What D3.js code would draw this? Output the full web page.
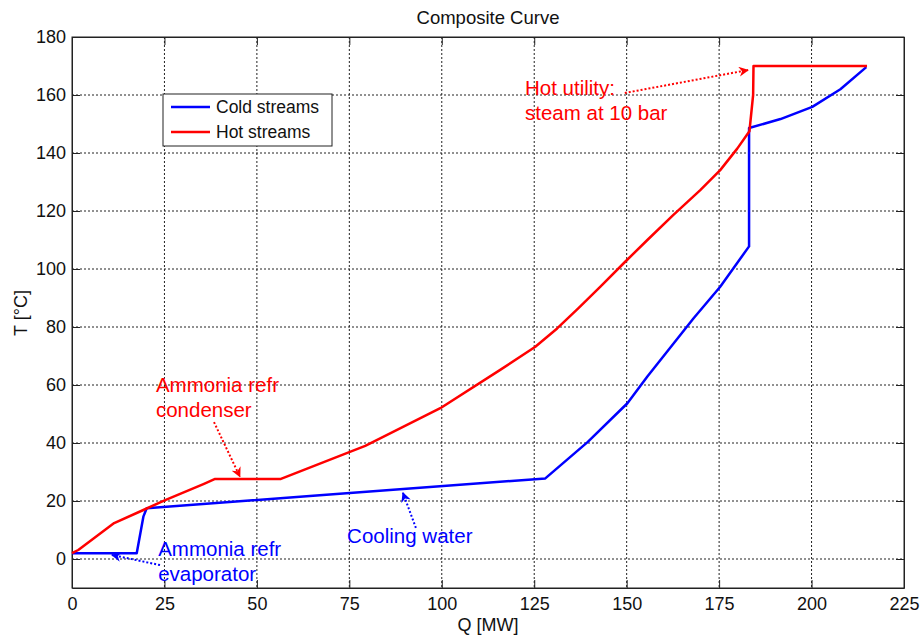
<!DOCTYPE html>
<html>
<head>
<meta charset="utf-8">
<script src="https://cdn.jsdelivr.net/npm/d3@7"></script>
<style>
  body { margin: 0; background: #fff; }
  svg { font-family: "Liberation Sans", Arial, sans-serif; }
  .grid line { stroke: #222; stroke-dasharray: 2,2; stroke-width: 1; }
  .axis path, .axis line { stroke: #222; }
  .axis text { font-size: 18px; fill: #111; }
</style>
</head>
<body>
<div id="chart"></div>
<script>
// composite curve data, Q [MW] vs T [°C]
var hotQ = [0, 1.7, 11.4, 19.3, 25.2, 35.7, 38.7, 56.5, 79.3, 99.6, 115.8, 125.3, 131.2, 136.9, 142.9, 149.6, 155.6, 162.5, 169.9, 175.3, 179.9, 183.2, 184.2, 184.3, 215];
var hotT = [2, 3.1, 12.4, 16.9, 20.3, 25.9, 27.6, 27.6, 39.0, 52.0, 65.2, 73.2, 79.5, 86.4, 93.9, 102.5, 110, 118.5, 127.2, 134.1, 141.5, 147.5, 160, 170, 170];

var coldQ = [0, 17.5, 19.3, 20.2, 67, 128, 139.5, 150.2, 155.6, 168.1, 175.3, 183.1, 183.1, 191.6, 200.2, 207.8, 214.8];
var coldT = [2, 2, 14.6, 17.5, 22, 27.8, 40.4, 53.7, 62.9, 83.0, 93.9, 107.8, 148.6, 151.7, 155.9, 162, 169.6];

var xTicks = [0, 25, 50, 75, 100, 125, 150, 175, 200, 225];
var yTicks = [0, 20, 40, 60, 80, 100, 120, 140, 160, 180];

var seriesNames = ["Cold streams", "Hot streams"];
var seriesColors = ["#0000ff", "#ff0000"];

// annotations: text lines, text anchor point, arrow from -> to (data units)
var notes = [
    {lines: ["Hot utility:", "steam at 10 bar"], color: "#ff0000", at: [122.5, 160], from: [149.5, 160.7], to: [182.8, 168.6]},
    {lines: ["Ammonia refr", "condenser"], color: "#ff0000", at: [22.7, 57.6], from: [38.4, 47.2], to: [45.4, 28.4]},
    {lines: ["Cooling water"], color: "#0000ff", at: [74.4, 5.5], from: [93, 10.7], to: [89.5, 22.8]},
    {lines: ["Ammonia refr", "evaporator"], color: "#0000ff", at: [23.3, 1.0], from: [23.8, -2.1], to: [10.8, 1.4]}
];

var W = 924, H = 636;
var margin = {top: 37, right: 20, bottom: 48, left: 72};
var width = W - margin.left - margin.right,
    height = H - margin.top - margin.bottom;

var svg = d3.select("#chart").append("svg")
    .attr("width", W)
    .attr("height", H);

var defs = svg.append("defs");
seriesColors.forEach(function(c, i) {
    defs.append("marker")
        .attr("id", "arrow" + i)
        .attr("viewBox", "0 0 10 10")
        .attr("refX", 9)
        .attr("refY", 5)
        .attr("markerWidth", 10)
        .attr("markerHeight", 10)
        .attr("markerUnits", "userSpaceOnUse")
        .attr("orient", "auto")
        .append("path")
        .attr("d", "M0,0 L10,5 L0,10 L3,5 Z")
        .attr("fill", c);
});

var g = svg.append("g")
    .attr("transform", "translate(" + margin.left + "," + margin.top + ")");

var x = d3.scaleLinear().domain([0, 225]).range([0, width]);
var y = d3.scaleLinear().domain([-10, 180]).range([height, 0]);

// grid
g.append("g").attr("class", "grid")
    .selectAll("line").data(xTicks.slice(1, -1)).enter().append("line")
    .attr("x1", function(d) { return x(d); })
    .attr("x2", function(d) { return x(d); })
    .attr("y1", 0).attr("y2", height);
g.append("g").attr("class", "grid")
    .selectAll("line").data(yTicks.slice(0, -1)).enter().append("line")
    .attr("y1", function(d) { return y(d); })
    .attr("y2", function(d) { return y(d); })
    .attr("x1", 0).attr("x2", width);

// axes, ticks inward like matlab
g.append("g").attr("class", "axis")
    .attr("transform", "translate(0," + height + ")")
    .call(d3.axisBottom(x).tickValues(xTicks).tickSizeInner(-8).tickSizeOuter(0).tickPadding(9));
g.append("g").attr("class", "axis")
    .call(d3.axisLeft(y).tickValues(yTicks).tickSizeInner(-8).tickSizeOuter(0).tickPadding(6));
g.append("g").attr("class", "axis")
    .call(d3.axisTop(x).tickValues(xTicks).tickSizeInner(-8).tickSizeOuter(0).tickFormat(""));
g.append("g").attr("class", "axis")
    .attr("transform", "translate(" + width + ",0)")
    .call(d3.axisRight(y).tickValues(yTicks).tickSizeInner(-8).tickSizeOuter(0).tickFormat(""));
g.append("rect")
    .attr("width", width).attr("height", height)
    .attr("fill", "none").attr("stroke", "#222");

// curves
var line = d3.line()
    .x(function(d) { return x(d[0]); })
    .y(function(d) { return y(d[1]); });

var cold = d3.zip(coldQ, coldT);
var hot = d3.zip(hotQ, hotT);

[cold, hot].forEach(function(s, i) {
    g.append("path")
        .datum(s)
        .attr("fill", "none")
        .attr("stroke", seriesColors[i])
        .attr("stroke-width", 2.5)
        .attr("stroke-linejoin", "round")
        .attr("d", line);
});

// annotations
notes.forEach(function(n) {
    var ci = n.color == "#ff0000" ? 1 : 0;
    g.append("line")
        .attr("x1", x(n.from[0])).attr("y1", y(n.from[1]))
        .attr("x2", x(n.to[0])).attr("y2", y(n.to[1]))
        .attr("stroke", n.color)
        .attr("stroke-width", 2)
        .attr("stroke-dasharray", "2,2")
        .attr("marker-end", "url(#arrow" + ci + ")");
    n.lines.forEach(function(t, k) {
        g.append("text")
            .attr("x", x(n.at[0]))
            .attr("y", y(n.at[1]) + k * 25)
            .attr("fill", n.color)
            .style("font-size", "20.5px")
            .text(t);
    });
});

// legend
var leg = g.append("g").attr("transform", "translate(" + (163 - margin.left) + "," + (94 - margin.top) + ")");
leg.append("rect")
    .attr("width", 169).attr("height", 52)
    .attr("fill", "#fff").attr("stroke", "#222");
seriesNames.forEach(function(name, i) {
    leg.append("line")
        .attr("x1", 8).attr("x2", 47)
        .attr("y1", 13 + i * 25).attr("y2", 13 + i * 25)
        .attr("stroke", seriesColors[i]).attr("stroke-width", 2.5);
    leg.append("text")
        .attr("x", 53).attr("y", 19 + i * 25)
        .style("font-size", "17.5px")
        .attr("fill", "#111")
        .text(name);
});

// title and axis labels
svg.append("text")
    .attr("x", margin.left + width / 2).attr("y", 24)
    .attr("text-anchor", "middle")
    .style("font-size", "18.5px").attr("fill", "#111")
    .text("Composite Curve");
svg.append("text")
    .attr("x", margin.left + width / 2).attr("y", 631)
    .attr("text-anchor", "middle")
    .style("font-size", "18px").attr("fill", "#111")
    .text("Q [MW]");
svg.append("text")
    .attr("transform", "translate(27," + 313 + ") rotate(-90)")
    .attr("text-anchor", "middle")
    .style("font-size", "18px").attr("fill", "#111")
    .text("T [°C]");
</script>
</body>
</html>
